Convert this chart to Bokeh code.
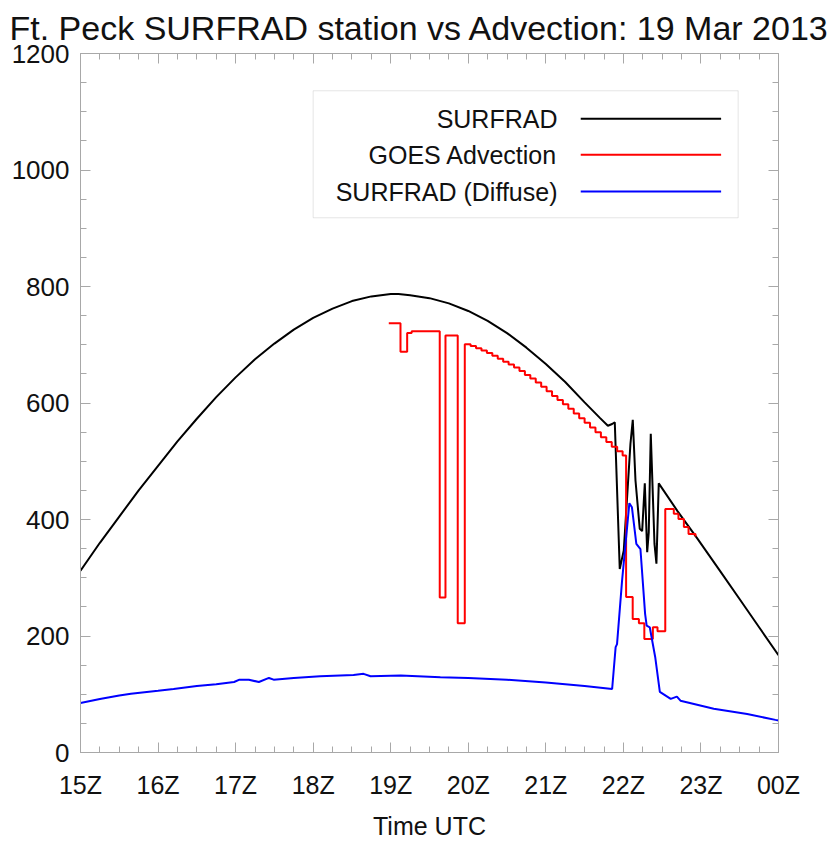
import numpy as np
from bokeh.plotting import figure
from bokeh.models import Range1d, FixedTicker, LinearAxis, BoxAnnotation, Label, ColumnDataSource
from bokeh.embed import file_html
from bokeh.resources import INLINE

# ---------------- data ----------------
title_text = "Ft. Peck SURFRAD station vs Advection: 19 Mar 2013"
x_axis_label = "Time UTC"
x_ticks = [15, 16, 17, 18, 19, 20, 21, 22, 23, 24]
x_tick_labels = ["15Z", "16Z", "17Z", "18Z", "19Z", "20Z", "21Z", "22Z", "23Z", "00Z"]
y_ticks = [0, 200, 400, 600, 800, 1000, 1200]

series_names = ["SURFRAD", "GOES Advection", "SURFRAD (Diffuse)"]
series_colors = ["#000000", "#ff0000", "#0000ff"]

# SURFRAD global (hours UTC, W/m2)
surf_t = [15.00, 15.25, 15.50, 15.75, 16.00, 16.25, 16.50, 16.75, 17.00, 17.25,
          17.50, 17.75, 18.00, 18.25, 18.50, 18.75, 19.00, 19.10, 19.25, 19.50,
          19.75, 20.00, 20.25, 20.50, 20.75, 21.00, 21.25, 21.50, 21.70, 21.80,
          21.855, 21.889, 21.953, 22.005, 22.091, 22.121, 22.156, 22.211, 22.242, 22.276,
          22.307, 22.327, 22.353, 22.401, 22.426, 22.456, 22.70, 22.95, 23.25, 23.50,
          23.75, 24.00]
surf_v = [312, 360, 405, 450, 492, 534, 573, 610, 644, 675,
          702, 726, 746, 762, 775, 783, 787, 787, 785, 780,
          771, 758, 741, 720, 695, 667, 636, 601, 574, 561,
          564, 567, 315, 347, 530, 571, 467, 384, 380, 462,
          344, 378, 547, 358, 324, 462, 414, 368, 311, 263,
          215, 167]

# GOES advection (step values, hours UTC, W/m2)
goes_t = [18.975, 19.126, 19.212, 19.27, 19.632, 19.706, 19.864, 19.955,
          20.03, 20.10, 20.17, 20.24, 20.31, 20.38, 20.45, 20.52, 20.59, 20.66,
          20.73, 20.80, 20.87, 20.94, 21.01, 21.08, 21.15, 21.22, 21.29, 21.36,
          21.43, 21.50, 21.57, 21.64, 21.71, 21.78, 21.85, 21.92, 21.99, 22.035,
          22.12, 22.20, 22.27, 22.38, 22.44, 22.54, 22.65, 22.71, 22.78, 22.84,
          22.93]
goes_v = [737, 688, 720, 723, 266, 716, 222, 701,
          698, 694, 690, 686, 681, 676, 671, 666, 661, 655,
          648, 642, 635, 628, 620, 612, 605, 598, 590, 582,
          574, 566, 558, 550, 541, 533, 525, 517, 510, 267,
          229, 222, 195, 215, 208, 418, 410, 401, 387, 375,
          371]

# SURFRAD diffuse (hours UTC, W/m2)
diff_t = [15.00, 15.25, 15.50, 15.65, 16.00, 16.20, 16.50, 16.75, 16.98, 17.05,
          17.17, 17.30, 17.43, 17.49, 17.75, 18.09, 18.52, 18.65, 18.74, 19.13,
          19.64, 20.00, 20.50, 21.00, 21.50, 21.855, 21.90, 21.918, 21.983, 22.077,
          22.11, 22.167, 22.22, 22.28, 22.30, 22.34, 22.41, 22.47, 22.61, 22.69,
          22.736, 23.165, 23.596, 23.96, 24.00]
diff_v = [85, 92, 98, 101, 106, 109, 114, 117, 121, 125,
          125, 121, 128, 125, 128, 131, 133, 135, 131, 132,
          129, 128, 125, 120, 114, 109, 181, 186, 295, 428,
          421, 358, 349, 238, 218, 215, 164, 104, 92, 96,
          89, 75, 66, 56, 55]

# ---------------- figure ----------------
FONT = "Liberation Sans"
GRAY = "#a8a8a8"

p = figure(width=833, height=842, x_range=Range1d(15, 24), y_range=Range1d(0, 1200),
           output_backend="svg", toolbar_location=None,
           min_border_left=80, min_border_right=55, min_border_top=53, min_border_bottom=90)
p.grid.visible = False
p.outline_line_color = GRAY
p.background_fill_color = "white"
p.border_fill_color = "white"

p.title.text = title_text
p.title.text_font = FONT
p.title.text_font_size = "34px"
p.title.text_font_style = "normal"
p.title.text_color = "#111111"
p.title.align = "left"
p.title.offset = -71
p.title.standoff = 13

x_minor = [t + q for t in x_ticks[:-1] for q in (0.25, 0.5, 0.75)]
y_minor = [v + d for v in y_ticks[:-1] for d in (50, 100, 150)]


def style_axis(ax, ticks, minor, show_labels):
    ax.ticker = FixedTicker(ticks=ticks, minor_ticks=minor)
    ax.axis_line_color = GRAY
    ax.major_tick_line_color = GRAY
    ax.minor_tick_line_color = GRAY
    ax.major_tick_in = 10
    ax.major_tick_out = 0
    ax.minor_tick_in = 6
    ax.minor_tick_out = 0
    ax.major_label_text_font = FONT
    ax.major_label_text_color = "#111111"
    if show_labels:
        ax.major_label_text_font_size = "25px"
    else:
        ax.major_label_overrides = {t: "" for t in ticks}
        ax.major_label_text_font_size = "1px"
        ax.major_label_standoff = 0


style_axis(p.xaxis[0], x_ticks, x_minor, True)
p.xaxis[0].major_label_overrides = {t: lab for t, lab in zip(x_ticks, x_tick_labels)}
p.xaxis[0].major_label_standoff = 18
p.xaxis[0].axis_label = x_axis_label
p.xaxis[0].axis_label_text_font = FONT
p.xaxis[0].axis_label_text_font_size = "25px"
p.xaxis[0].axis_label_text_font_style = "normal"
p.xaxis[0].axis_label_text_color = "#111111"
p.xaxis[0].axis_label_standoff = 10

style_axis(p.yaxis[0], y_ticks, y_minor, True)
p.yaxis[0].major_label_text_font_size = "26px"
p.yaxis[0].major_label_standoff = 11

top_ax = LinearAxis()
style_axis(top_ax, x_ticks, x_minor, False)
p.add_layout(top_ax, "above")
right_ax = LinearAxis()
style_axis(right_ax, y_ticks, y_minor, False)
p.add_layout(right_ax, "right")

# series
p.line(surf_t, surf_v, line_color=series_colors[0], line_width=2)
p.step(goes_t, goes_v, mode="after", line_color=series_colors[1], line_width=2)
p.line(diff_t, diff_v, line_color=series_colors[2], line_width=2)

# legend (labels left of sample lines), layout positions in data space
leg_left, leg_right, leg_top, leg_bottom = 18.0, 23.48, 1136, 918
leg_text_x = 21.15
leg_line_x0, leg_line_x1 = 21.45, 23.26
leg_rows_y = [1088, 1026, 963]

p.add_layout(BoxAnnotation(left=leg_left, right=leg_right, top=leg_top, bottom=leg_bottom,
                           fill_color=None, line_color=GRAY, line_width=1, level="underlay"))
for name, col, yy in zip(series_names, series_colors, leg_rows_y):
    p.add_layout(Label(x=leg_text_x, y=yy, text=name, text_align="right", text_baseline="middle",
                       text_font=FONT, text_font_size="25px", text_color="#111111"))
src = ColumnDataSource(dict(x0=[leg_line_x0] * 3, x1=[leg_line_x1] * 3, y=leg_rows_y, c=series_colors))
p.segment(x0="x0", y0="y", x1="x1", y1="y", line_color="c", line_width=2, source=src)

open("out.html", "w").write(file_html(p, INLINE))
